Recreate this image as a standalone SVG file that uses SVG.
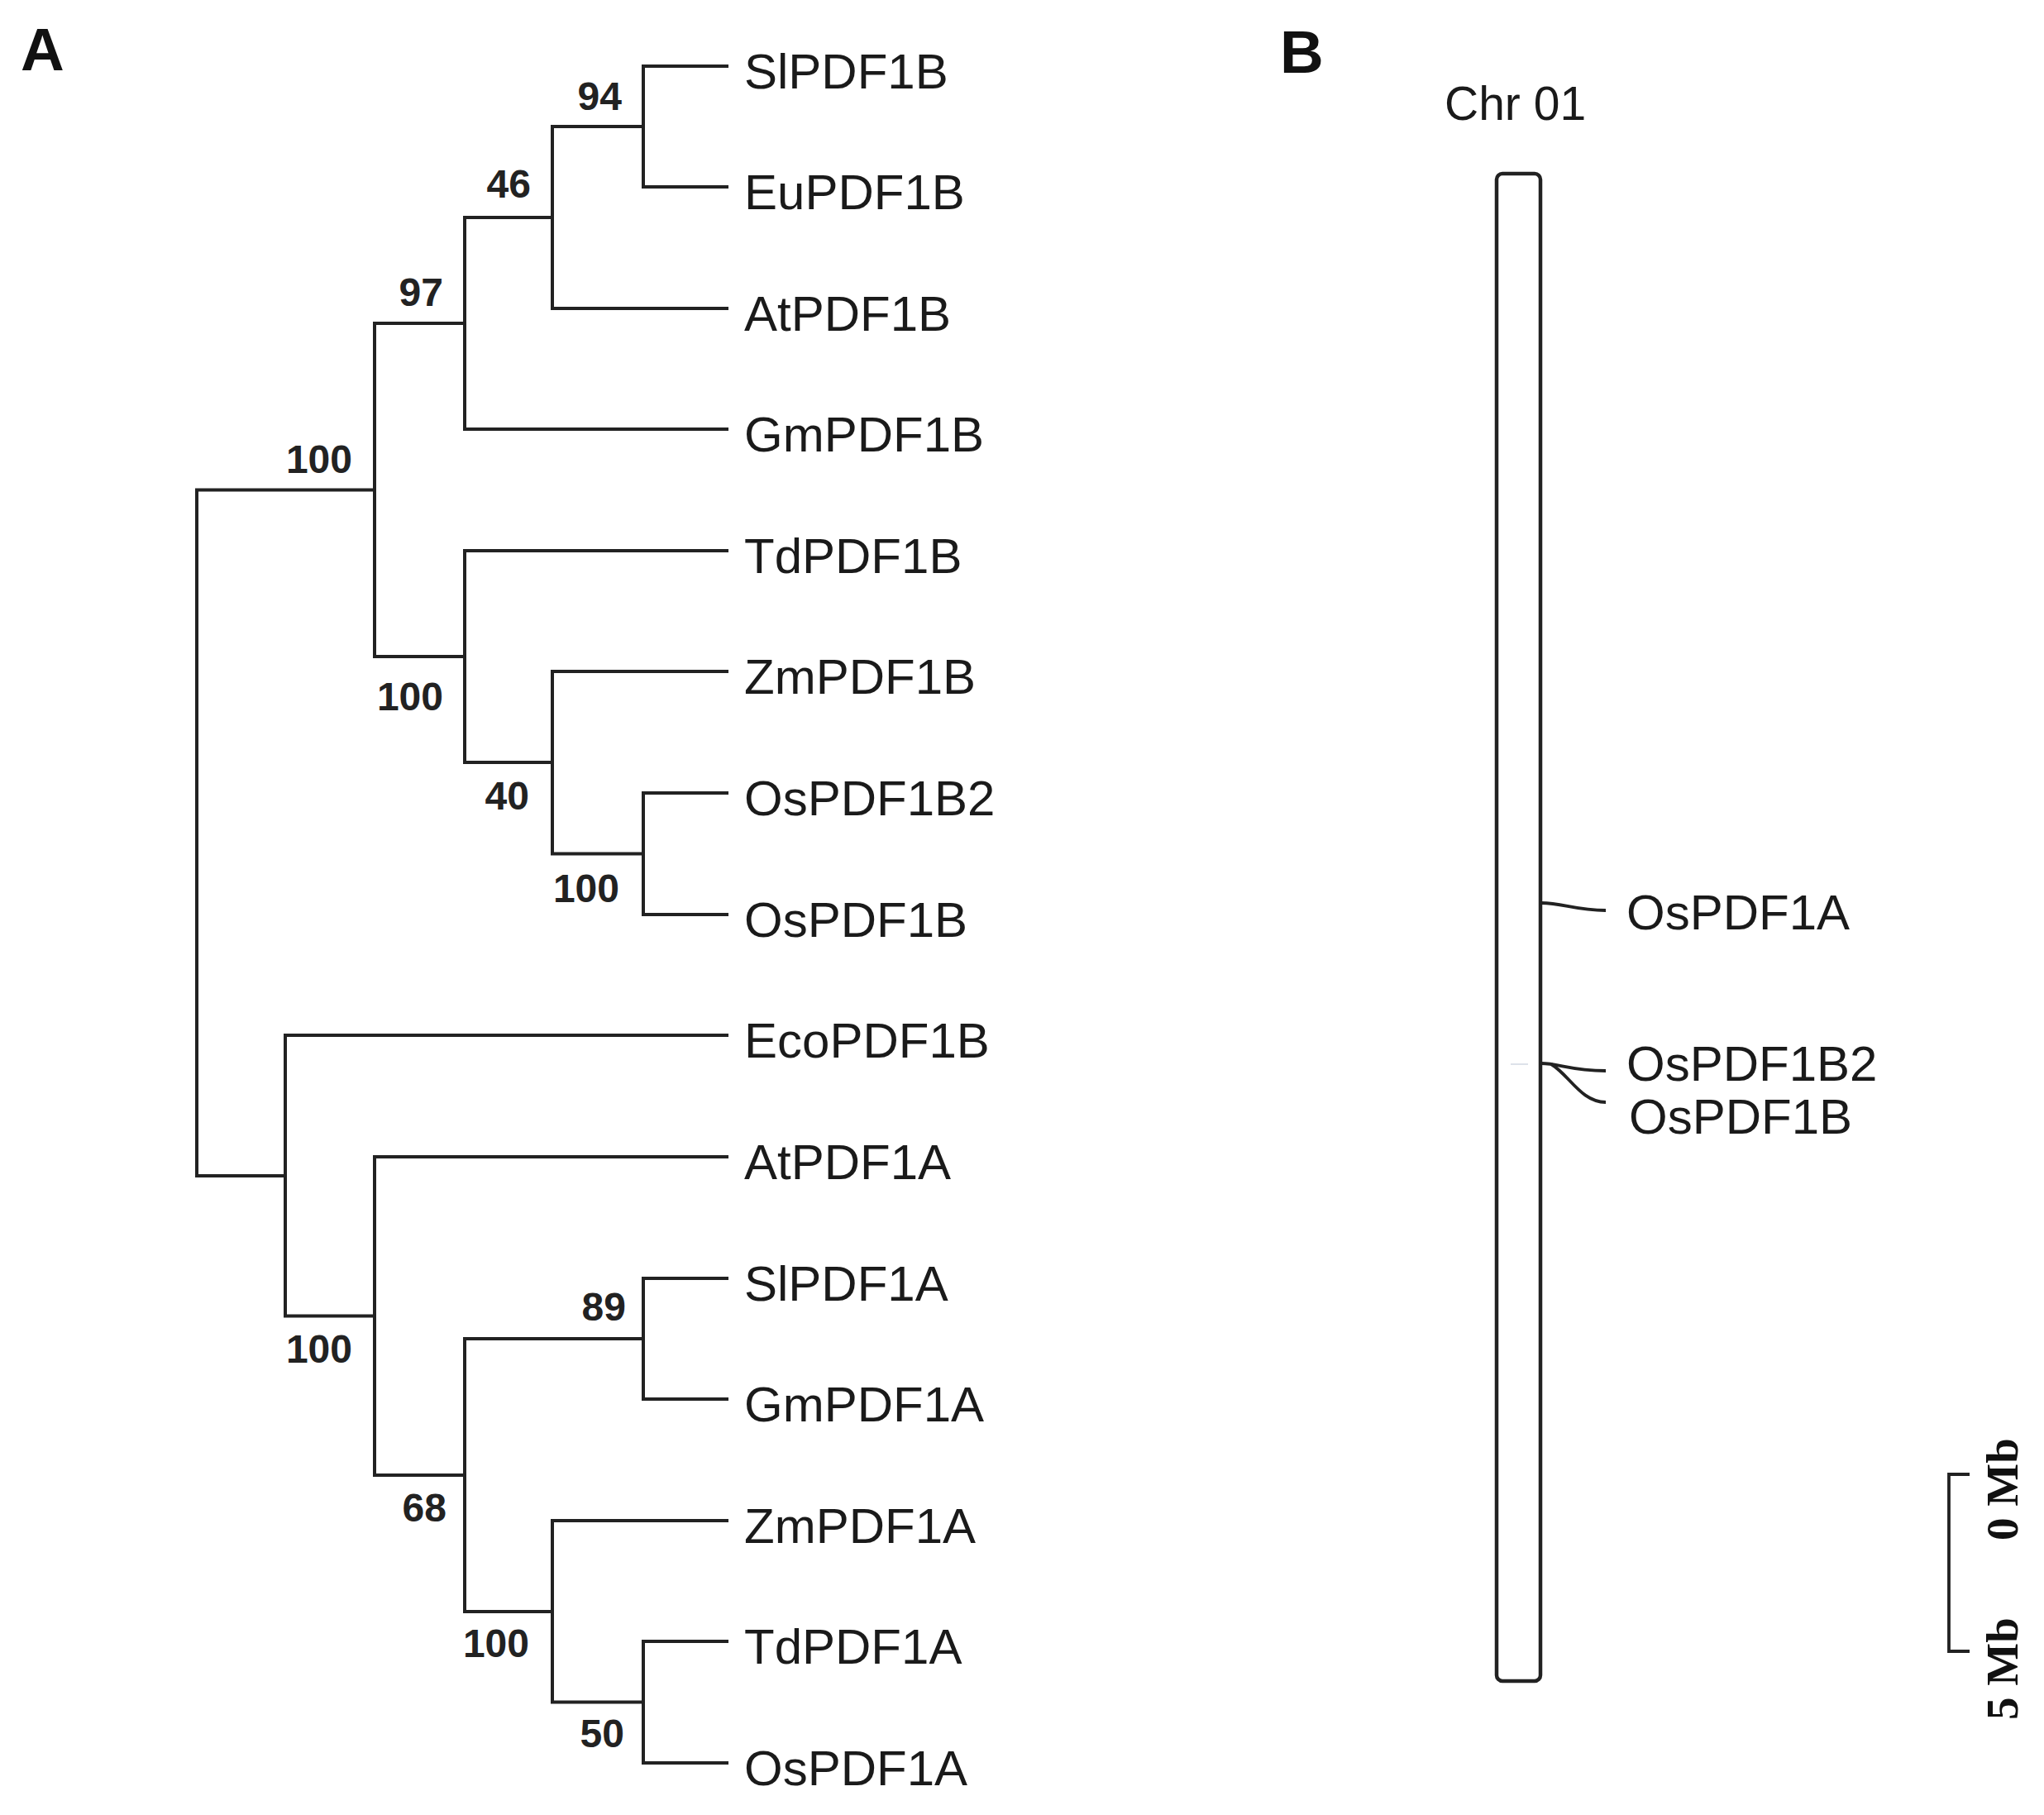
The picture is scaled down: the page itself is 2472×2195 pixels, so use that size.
<svg xmlns="http://www.w3.org/2000/svg" width="2472" height="2195" viewBox="0 0 2472 2195">
<style>
.br{fill:none;stroke:#222;stroke-width:4;stroke-linecap:square;stroke-linejoin:miter}
.leaf{font-family:"Liberation Sans",Arial,sans-serif;font-size:60px;fill:#1a1a1a}
.bs{font-family:"Liberation Sans",Arial,sans-serif;font-size:48px;font-weight:bold;fill:#222;text-anchor:end}
.panel{font-family:"Liberation Sans",Arial,sans-serif;font-size:73px;font-weight:bold;fill:#111}
.scale{font-family:"Liberation Serif","Times New Roman",serif;font-size:55px;font-weight:bold;fill:#111}
.conn{fill:none;stroke:#222;stroke-width:3.8}
</style>
<rect width="2472" height="2195" fill="#ffffff"/>
<text class="panel" x="25" y="85">A</text>
<text class="panel" x="1548" y="88">B</text>

<g id="connectors">
<path class="br" d="M453 592.5 H238 V1422 H345"/>
<path class="br" d="M562 391 H453 V794 H562"/>
<path class="br" d="M668 263 H562 V519 H879"/>
<path class="br" d="M778 153 H668 V373 H879"/>
<path class="br" d="M879 80 H778 V226 H879"/>
<path class="br" d="M879 666 H562 V922 H668"/>
<path class="br" d="M879 812 H668 V1032.5 H778"/>
<path class="br" d="M879 959 H778 V1106 H879"/>
<path class="br" d="M879 1252 H345 V1591.5 H453"/>
<path class="br" d="M879 1399 H453 V1784 H562"/>
<path class="br" d="M778 1619 H562 V1949 H668"/>
<path class="br" d="M879 1546 H778 V1692 H879"/>
<path class="br" d="M879 1839 H668 V2058.5 H778"/>
<path class="br" d="M879 1985 H778 V2132 H879"/>
<path class="conn" d="M1864 1092 C1890 1092 1905 1101 1942 1101"/>
<path class="conn" d="M1864 1286 C1885 1286 1900 1295 1942 1295"/>
<path class="conn" d="M1876 1287 C1898 1300 1912 1333 1942 1333"/>
</g>

<g id="bootstrap">
<text class="bs" x="752" y="133">94</text>
<text class="bs" x="642" y="239">46</text>
<text class="bs" x="536" y="370">97</text>
<text class="bs" x="426" y="572">100</text>
<text class="bs" x="536" y="859">100</text>
<text class="bs" x="640" y="979">40</text>
<text class="bs" x="749" y="1091">100</text>
<text class="bs" x="426" y="1648">100</text>
<text class="bs" x="757" y="1597">89</text>
<text class="bs" x="540" y="1840">68</text>
<text class="bs" x="640" y="2004">100</text>
<text class="bs" x="755" y="2113">50</text>
</g>

<g id="leaf-SlPDF1B"><text class="leaf" x="900" y="107">SlPDF1B</text></g>
<g id="leaf-EuPDF1B"><text class="leaf" x="900" y="253">EuPDF1B</text></g>
<g id="leaf-AtPDF1B"><text class="leaf" x="900" y="400">AtPDF1B</text></g>
<g id="leaf-GmPDF1B"><text class="leaf" x="900" y="546">GmPDF1B</text></g>
<g id="leaf-TdPDF1B"><text class="leaf" x="900" y="693">TdPDF1B</text></g>
<g id="leaf-ZmPDF1B"><text class="leaf" x="900" y="839">ZmPDF1B</text></g>
<g id="leaf-OsPDF1B2"><text class="leaf" x="900" y="986">OsPDF1B2</text></g>
<g id="leaf-OsPDF1B"><text class="leaf" x="900" y="1133">OsPDF1B</text></g>
<g id="leaf-EcoPDF1B"><text class="leaf" x="900" y="1279">EcoPDF1B</text></g>
<g id="leaf-AtPDF1A"><text class="leaf" x="900" y="1426">AtPDF1A</text></g>
<g id="leaf-SlPDF1A"><text class="leaf" x="900" y="1573">SlPDF1A</text></g>
<g id="leaf-GmPDF1A"><text class="leaf" x="900" y="1719">GmPDF1A</text></g>
<g id="leaf-ZmPDF1A"><text class="leaf" x="900" y="1866">ZmPDF1A</text></g>
<g id="leaf-TdPDF1A"><text class="leaf" x="900" y="2012">TdPDF1A</text></g>
<g id="leaf-OsPDF1A"><text class="leaf" x="900" y="2159">OsPDF1A</text></g>

<g id="chromosome">
<text class="leaf" x="1747" y="145" style="font-size:57px">Chr 01</text>
<rect x="1810" y="210" width="53" height="1823" rx="7" ry="7" fill="#ffffff" stroke="#222" stroke-width="4.5"/>
<line x1="1827" y1="1287" x2="1848" y2="1287" stroke="#dde2ea" stroke-width="2"/>
</g>
<g id="gene-OsPDF1A"><text class="leaf" x="1967" y="1124">OsPDF1A</text></g>
<g id="gene-OsPDF1B2"><text class="leaf" x="1967" y="1307">OsPDF1B2</text></g>
<g id="gene-OsPDF1B"><text class="leaf" x="1970" y="1371">OsPDF1B</text></g>

<g id="scalebar">
<path class="conn" d="M2382 1783 H2357 V1997 H2382" stroke-width="4"/>
<text class="scale" transform="translate(2440 1863) rotate(-90)">0 Mb</text>
<text class="scale" transform="translate(2440 2080) rotate(-90)">5 Mb</text>
</g>
</svg>
